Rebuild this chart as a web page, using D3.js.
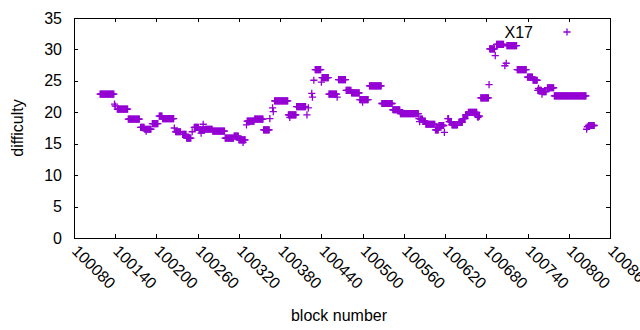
<!DOCTYPE html>
<html>
<head>
<meta charset="utf-8">
<script src="https://cdn.jsdelivr.net/npm/d3@7"></script>
<style>
  body { margin: 0; background: #fff; }
  svg text { font-family: "Liberation Sans", Arial, sans-serif; font-size: 16px; fill: #000; }
  .axis path, .axis line { stroke: #000; stroke-width: 1; shape-rendering: crispEdges; }
</style>
</head>
<body>
<div id="chart"></div>
<script>
// difficulty runs: first block, last block, difficulty
const runStart = [100118, 100139, 100140, 100143, 100159, 100177, 100183, 100185, 100194, 100204,
  100209, 100226, 100228, 100238, 100244, 100252, 100255, 100262, 100265, 100268,
  100271, 100282, 100300, 100313, 100320, 100326, 100331, 100332, 100343, 100356,
  100365, 100369, 100370, 100372, 100392, 100394, 100404, 100419, 100421, 100426,
  100427, 100429, 100431, 100440, 100441, 100451, 100463, 100465, 100476, 100484,
  100496, 100500, 100510, 100528, 100544, 100555, 100582, 100583, 100584, 100588,
  100592, 100606, 100611, 100619, 100624, 100626, 100630, 100640, 100646, 100650,
  100654, 100667, 100668, 100672, 100684, 100685, 100693, 100695, 100707, 100709,
  100710, 100725, 100740, 100748, 100755, 100756, 100761, 100762, 100769, 100779,
  100826, 100827, 100829];
const runEnd = [100138, 100139, 100140, 100158, 100175, 100182, 100192, 100185, 100202, 100208,
  100225, 100226, 100235, 100243, 100250, 100252, 100261, 100270, 100265, 100268,
  100281, 100299, 100312, 100319, 100329, 100326, 100331, 100342, 100355, 100364,
  100365, 100369, 100370, 100391, 100403, 100394, 100417, 100419, 100421, 100426,
  100427, 100429, 100439, 100440, 100450, 100462, 100463, 100475, 100483, 100495,
  100508, 100500, 100527, 100543, 100554, 100581, 100582, 100583, 100587, 100591,
  100605, 100610, 100618, 100619, 100625, 100629, 100638, 100645, 100649, 100653,
  100666, 100670, 100668, 100683, 100684, 100692, 100693, 100705, 100707, 100709,
  100724, 100738, 100747, 100754, 100760, 100756, 100761, 100767, 100778, 100825,
  100826, 100827, 100837];
const runDiff = [22.9, 21.3, 21.0, 20.5, 18.9, 17.6, 17.3, 17.0, 18.2, 19.4,
  19.0, 17.5, 16.9, 16.5, 15.9, 16.9, 17.6, 17.2, 16.7, 18.1,
  17.3, 17.0, 15.9, 16.2, 15.6, 15.2, 18.0, 18.6, 18.9, 17.2,
  19.0, 20.7, 20.1, 21.8, 19.6, 19.2, 20.9, 19.6, 20.7, 23.0,
  22.4, 25.1, 26.8, 24.8, 25.5, 22.9, 22.4, 25.2, 23.5, 23.1,
  22.0, 21.6, 24.2, 21.4, 20.4, 19.8, 19.0, 18.5, 18.9, 18.6,
  18.1, 17.2, 17.9, 16.8, 19.0, 18.5, 18.0, 18.4, 19.0, 19.6,
  20.0, 19.4, 19.2, 22.3, 24.4, 30.1, 29.0, 30.8, 27.4, 27.8,
  30.6, 26.8, 25.6, 25.1, 23.5, 23.8, 22.9, 23.3, 23.9, 22.6,
  17.3, 17.7, 17.9];

const xTicks = d3.range(100080, 100861, 60);
const yTicks = [0, 5, 10, 15, 20, 25, 30, 35];
const seriesName = "X17";

const width = 640, height = 330;
const m = { left: 74, right: 610, top: 18, bottom: 238 };
const color = "#9400d3";

const points = [];
runStart.forEach((s, i) => {
  for (let b = s; b <= runEnd[i]; b++) points.push([b, runDiff[i]]);
});

const x = d3.scaleLinear().domain([100080, 100860]).range([m.left, m.right]);
const y = d3.scaleLinear().domain([0, 35]).range([m.bottom, m.top]);

const svg = d3.select("#chart").append("svg")
  .attr("width", width)
  .attr("height", height);

// axes with inward ticks on all four sides
svg.append("g").attr("class", "axis")
  .attr("transform", `translate(0,${m.bottom})`)
  .call(d3.axisBottom(x).tickValues(xTicks).tickSize(-4).tickFormat(""));
svg.append("g").attr("class", "axis")
  .attr("transform", `translate(0,${m.top})`)
  .call(d3.axisTop(x).tickValues(xTicks).tickSize(-4).tickFormat(""));
svg.append("g").attr("class", "axis")
  .attr("transform", `translate(${m.left},0)`)
  .call(d3.axisLeft(y).tickValues(yTicks).tickSize(-4).tickFormat(""));
svg.append("g").attr("class", "axis")
  .attr("transform", `translate(${m.right},0)`)
  .call(d3.axisRight(y).tickValues(yTicks).tickSize(-4).tickFormat(""));
svg.selectAll(".axis .domain").remove();

svg.append("rect")
  .attr("x", m.left).attr("y", m.top)
  .attr("width", m.right - m.left).attr("height", m.bottom - m.top)
  .attr("fill", "none").attr("stroke", "#000")
  .attr("shape-rendering", "crispEdges");

// tick labels
svg.append("g").selectAll("text")
  .data(yTicks)
  .join("text")
  .attr("x", m.left - 12)
  .attr("y", d => y(d))
  .attr("dy", "0.35em")
  .attr("text-anchor", "end")
  .text(d => d);

svg.append("g").selectAll("text")
  .data(xTicks)
  .join("text")
  .attr("transform", d => `translate(${x(d) + 1},${m.bottom + 10}) rotate(45)`)
  .attr("dy", "0.35em")
  .attr("text-anchor", "start")
  .text(d => d);

svg.append("text")
  .attr("transform", `translate(23,${(m.top + m.bottom) / 2}) rotate(-90)`)
  .attr("text-anchor", "middle")
  .text("difficulty");

svg.append("text")
  .attr("x", 339).attr("y", 321)
  .attr("text-anchor", "middle")
  .text("block number");

// plus markers
function plus(sel, cx, cy) {
  const h = 3.6;
  sel.append("path")
    .attr("d", `M${cx - h},${cy}H${cx + h}M${cx},${cy - h}V${cy + h}`)
    .attr("stroke", color)
    .attr("stroke-width", 1.3)
    .attr("fill", "none");
}

const marks = svg.append("g");
points.forEach(p => plus(marks, x(p[0]), y(p[1])));

// key
svg.append("text")
  .attr("x", 533).attr("y", 32)
  .attr("dy", "0.35em")
  .attr("text-anchor", "end")
  .text(seriesName);
plus(svg.append("g"), 567, 32);
</script>
</body>
</html>
